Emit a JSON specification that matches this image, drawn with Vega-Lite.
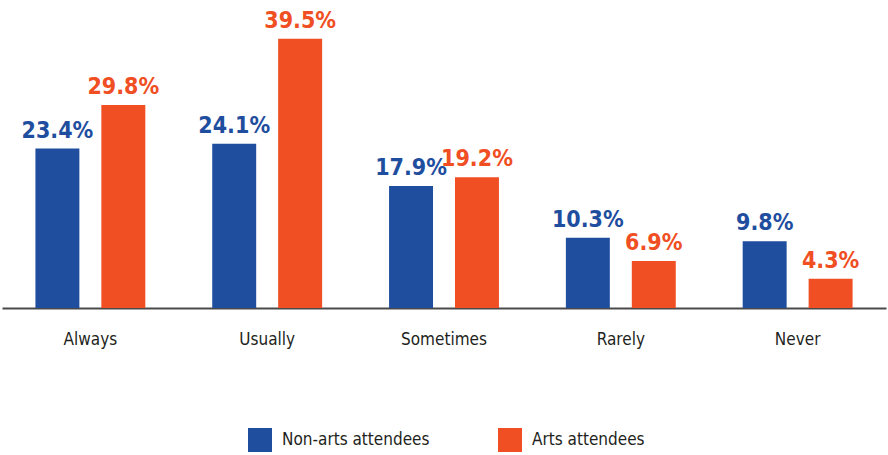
{
  "$schema": "https://vega.github.io/schema/vega-lite/v6.json",
  "width": 884,
  "height": 308,
  "autosize": {"type": "none"},
  "padding": {"left": 2, "top": 0, "right": 2, "bottom": 147},
  "background": "white",
  "config": {"view": {"stroke": null}, "font": "DejaVu Sans Condensed, sans-serif"},
  "data": {"values": [
    {"response": "Always", "group": "Non-arts attendees", "share": 0.234},
    {"response": "Always", "group": "Arts attendees", "share": 0.298},
    {"response": "Usually", "group": "Non-arts attendees", "share": 0.241},
    {"response": "Usually", "group": "Arts attendees", "share": 0.395},
    {"response": "Sometimes", "group": "Non-arts attendees", "share": 0.179},
    {"response": "Sometimes", "group": "Arts attendees", "share": 0.192},
    {"response": "Rarely", "group": "Non-arts attendees", "share": 0.103},
    {"response": "Rarely", "group": "Arts attendees", "share": 0.069},
    {"response": "Never", "group": "Non-arts attendees", "share": 0.098},
    {"response": "Never", "group": "Arts attendees", "share": 0.043}
  ]},
  "encoding": {
    "x": {
      "field": "response", "type": "nominal",
      "sort": ["Always", "Usually", "Sometimes", "Rarely", "Never"],
      "scale": {"paddingInner": 0.3785, "paddingOuter": 0.189},
      "axis": {
        "title": null, "labelAngle": 0, "ticks": false,
        "domainColor": "#4a4a4a", "domainWidth": 2,
        "labelFontSize": 17, "labelColor": "#231f20", "labelPadding": 23,
        "labelFont": "DejaVu Sans Condensed, sans-serif"
      }
    },
    "xOffset": {
      "field": "group", "type": "nominal",
      "sort": ["Non-arts attendees", "Arts attendees"],
      "scale": {"paddingInner": 0.3333, "paddingOuter": 0}
    },
    "y": {
      "field": "share", "type": "quantitative",
      "scale": {"domain": [0, 0.452], "nice": false},
      "axis": null
    },
    "color": {
      "field": "group", "type": "nominal",
      "sort": ["Non-arts attendees", "Arts attendees"],
      "scale": {"domain": ["Non-arts attendees", "Arts attendees"], "range": ["#1f4e9f", "#f04e23"]},
      "legend": {
        "title": null, "orient": "none", "direction": "horizontal",
        "legendX": 246, "legendY": 428,
        "symbolType": "square", "symbolSize": 576, "symbolStrokeWidth": 0, "symbolOpacity": 1,
        "labelFontSize": 17, "labelColor": "#231f20", "labelOffset": 10,
        "columnPadding": 68,
        "labelFont": "DejaVu Sans Condensed, sans-serif"
      }
    }
  },
  "layer": [
    {"mark": {"type": "bar"}},
    {
      "mark": {"type": "text", "baseline": "alphabetic", "dy": -11, "fontSize": 23, "fontWeight": "bold",
               "font": "DejaVu Sans Condensed, sans-serif"},
      "encoding": {
        "text": {"field": "share", "type": "quantitative", "format": ".1%"}
      }
    }
  ]
}
